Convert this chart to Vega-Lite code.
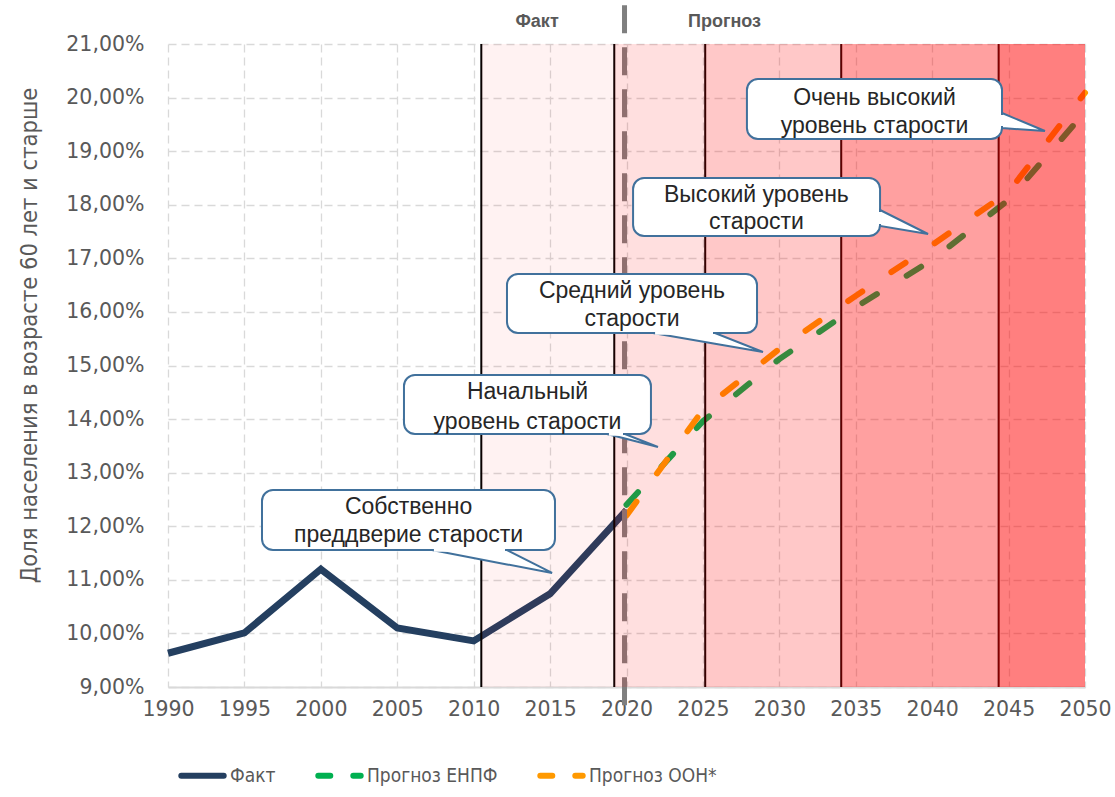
{
  "$schema": "https://vega.github.io/schema/vega-lite/v6.json",
  "width": 917,
  "height": 643,
  "autosize": "none",
  "padding": {"left": 168, "top": 44, "right": 30, "bottom": 110},
  "config": {
    "view": {"stroke": null},
    "axis": {"labelColor": "#595959", "labelFont": "DejaVu Sans", "labelFontSize": 20.5, "gridColor": "#d9d9d9", "gridDash": [8, 5], "gridWidth": 1.3, "ticks": false}
  },
  "datasets": {
    "fact": [
      {"year": 1990, "value": 9.63, "series": "Факт"},
      {"year": 1995, "value": 10.01, "series": "Факт"},
      {"year": 2000, "value": 11.2, "series": "Факт"},
      {"year": 2005, "value": 10.1, "series": "Факт"},
      {"year": 2010, "value": 9.86, "series": "Факт"},
      {"year": 2015, "value": 10.74, "series": "Факт"},
      {"year": 2020, "value": 12.3, "series": "Факт"}
    ],
    "forecast": [
      {"year": 2020, "value": 12.4, "series": "Прогноз ЕНПФ"},
      {"year": 2025, "value": 13.96, "series": "Прогноз ЕНПФ"},
      {"year": 2030, "value": 15.12, "series": "Прогноз ЕНПФ"},
      {"year": 2035, "value": 16.09, "series": "Прогноз ЕНПФ"},
      {"year": 2040, "value": 16.97, "series": "Прогноз ЕНПФ"},
      {"year": 2045, "value": 18.09, "series": "Прогноз ЕНПФ"},
      {"year": 2050, "value": 19.73, "series": "Прогноз ЕНПФ"},
      {"year": 2020, "value": 12.2, "series": "Прогноз ООН*"},
      {"year": 2025, "value": 14.17, "series": "Прогноз ООН*"},
      {"year": 2030, "value": 15.31, "series": "Прогноз ООН*"},
      {"year": 2035, "value": 16.3, "series": "Прогноз ООН*"},
      {"year": 2040, "value": 17.25, "series": "Прогноз ООН*"},
      {"year": 2045, "value": 18.24, "series": "Прогноз ООН*"},
      {"year": 2050, "value": 20.09, "series": "Прогноз ООН*"}
    ],
    "bounds": [
      {"year": 2010.5}, {"year": 2019.2}, {"year": 2025.15}, {"year": 2034.05}, {"year": 2044.35}
    ],
    "divider": [{"year": 2019.87, "lo": 8.66, "hi": 21.8}],
    "zones": [
      {"x1": 2010.5, "x2": 2019.2, "level": "1"},
      {"x1": 2019.2, "x2": 2025.1, "level": "2"},
      {"x1": 2025.1, "x2": 2034.0, "level": "3"},
      {"x1": 2034.0, "x2": 2044.3, "level": "4"},
      {"x1": 2044.3, "x2": 2050, "level": "5"}
    ],
    "boxes": [
      {"x1": 1996.15, "x2": 2015.32, "y1": 11.557, "y2": 12.676},
      {"x1": 2005.44, "x2": 2021.6, "y1": 13.722, "y2": 14.823},
      {"x1": 2012.18, "x2": 2028.54, "y1": 15.606, "y2": 16.708},
      {"x1": 2020.43, "x2": 2036.59, "y1": 17.417, "y2": 18.499},
      {"x1": 2027.88, "x2": 2044.57, "y1": 19.227, "y2": 20.347}
    ],
    "tails": [
      {"id": 1, "x": 2007.27, "lo": 11.557, "hi": 11.557},
      {"id": 1, "x": 2012.18, "lo": 11.288, "hi": 11.557},
      {"id": 1, "x": 2015.13, "lo": 11.128, "hi": 11.128},
      {"id": 2, "x": 2018.72, "lo": 13.722, "hi": 13.722},
      {"id": 2, "x": 2019.9, "lo": 13.636, "hi": 13.722},
      {"id": 2, "x": 2022.06, "lo": 13.479, "hi": 13.479},
      {"id": 3, "x": 2021.73, "lo": 15.606, "hi": 15.606},
      {"id": 3, "x": 2025.79, "lo": 15.407, "hi": 15.606},
      {"id": 3, "x": 2028.93, "lo": 15.252, "hi": 15.252},
      {"id": 4, "x": 2036.59, "lo": 17.603, "hi": 17.902},
      {"id": 4, "x": 2039.73, "lo": 17.454, "hi": 17.454},
      {"id": 5, "x": 2044.57, "lo": 19.432, "hi": 19.712},
      {"id": 5, "x": 2047.38, "lo": 19.376, "hi": 19.376}
    ],
    "covers": [
      {"x1": 2007.4, "x2": 2012.05, "y1": 11.557, "y2": 11.557},
      {"x1": 2018.85, "x2": 2019.77, "y1": 13.722, "y2": 13.722},
      {"x1": 2021.87, "x2": 2025.66, "y1": 15.606, "y2": 15.606},
      {"x1": 2036.59, "x2": 2036.59, "y1": 17.865, "y2": 17.641},
      {"x1": 2044.57, "x2": 2044.57, "y1": 19.675, "y2": 19.47}
    ],
    "notes": [
      {"x": 2005.74, "y": 12.36, "text": "Собственно"},
      {"x": 2005.74, "y": 11.84, "text": "преддверие старости"},
      {"x": 2013.52, "y": 14.505, "text": "Начальный"},
      {"x": 2013.52, "y": 13.946, "text": "уровень старости"},
      {"x": 2020.36, "y": 16.391, "text": "Средний уровень"},
      {"x": 2020.36, "y": 15.867, "text": "старости"},
      {"x": 2028.5, "y": 18.182, "text": "Высокий уровень"},
      {"x": 2028.5, "y": 17.678, "text": "старости"},
      {"x": 2036.23, "y": 19.992, "text": "Очень высокий"},
      {"x": 2036.23, "y": 19.47, "text": "уровень старости"}
    ],
    "heads": [
      {"x": 2014.15, "y": 21.41, "text": "Факт"},
      {"x": 2026.41, "y": 21.41, "text": "Прогноз"}
    ]
  },
  "layer": [
    {
      "data": {"name": "fact"},
      "mark": {"type": "line", "strokeWidth": 7},
      "encoding": {
        "x": {"field": "year", "type": "quantitative", "scale": {"domain": [1990, 2050], "nice": false, "zero": false},
          "axis": {"values": [1990, 1995, 2000, 2005, 2010, 2015, 2020, 2025, 2030, 2035, 2040, 2045, 2050], "format": "d", "title": null, "domainColor": "#d9d9d9", "domainWidth": 2, "labelPadding": 12, "labelFlush": false}},
        "y": {"field": "value", "type": "quantitative", "scale": {"domain": [9, 21], "nice": false, "zero": false},
          "axis": {"values": [9, 10, 11, 12, 13, 14, 15, 16, 17, 18, 19, 20, 21], "labelExpr": "replace(format(datum.value, '.2f'), '.', ',') + '%'", "domain": false, "labelPadding": 24,
            "title": "Доля населения в возрасте 60 лет и старше", "titleFont": "DejaVu Sans Condensed, Liberation Sans, sans-serif", "titleFontSize": 23.5, "titleFontWeight": "normal", "titleColor": "#595959", "titlePadding": 24, "titleY": 291}},
        "color": {"field": "series", "type": "nominal",
          "scale": {"domain": ["Факт", "Прогноз ЕНПФ", "Прогноз ООН*"], "range": ["#243f60", "#00b050", "#ff9900"]},
          "legend": {"orient": "none", "legendX": 10, "legendY": 707, "direction": "horizontal", "title": null, "symbolType": "stroke", "symbolSize": 1800, "symbolStrokeWidth": 6,
            "labelFont": "DejaVu Sans Condensed, Liberation Sans, sans-serif", "labelFontSize": 19, "labelColor": "#595959", "columnPadding": 30, "labelOffset": 3,
            "encode": {"symbols": {"update": {"strokeDash": {"signal": "datum.value == 'Факт' ? [1, 0] : [12, 23]"}, "strokeCap": {"value": "round"}}}}}}
      }
    },
    {
      "data": {"name": "forecast"},
      "mark": {"type": "line", "strokeWidth": 6, "strokeDash": [17, 35], "strokeCap": "round"},
      "encoding": {
        "x": {"field": "year", "type": "quantitative"},
        "y": {"field": "value", "type": "quantitative"},
        "color": {"field": "series", "type": "nominal"}
      }
    },
    {
      "data": {"name": "bounds"},
      "mark": {"type": "rule", "color": "#000000", "strokeWidth": 2},
      "encoding": {
        "x": {"field": "year", "type": "quantitative"}
      }
    },
    {
      "data": {"name": "divider"},
      "mark": {"type": "rule", "color": "#7f7f7f", "strokeWidth": 5, "strokeDash": [28, 14]},
      "encoding": {
        "x": {"field": "year", "type": "quantitative"},
        "y": {"field": "lo", "type": "quantitative"},
        "y2": {"field": "hi"}
      }
    },
    {
      "data": {"name": "zones"},
      "mark": {"type": "rect"},
      "encoding": {
        "x": {"field": "x1", "type": "quantitative"},
        "x2": {"field": "x2"},
        "y": {"datum": 9},
        "y2": {"datum": 21},
        "fill": {"field": "level", "type": "ordinal", "scale": {"domain": ["1", "2", "3", "4", "5"], "range": ["rgba(255,0,0,0.05)", "rgba(255,0,0,0.125)", "rgba(255,0,0,0.216)", "rgba(255,0,0,0.373)", "rgba(255,0,0,0.5)"]}, "legend": null}
      }
    },
    {
      "data": {"name": "boxes"},
      "mark": {"type": "rect", "fill": "#ffffff", "stroke": "#41719c", "strokeWidth": 2, "cornerRadius": 11},
      "encoding": {
        "x": {"field": "x1", "type": "quantitative"},
        "x2": {"field": "x2"},
        "y": {"field": "y1", "type": "quantitative"},
        "y2": {"field": "y2"}
      }
    },
    {
      "data": {"name": "tails"},
      "mark": {"type": "area", "fill": "#ffffff", "stroke": "#41719c", "strokeWidth": 2, "opacity": 1, "fillOpacity": 1},
      "encoding": {
        "x": {"field": "x", "type": "quantitative"},
        "y": {"field": "hi", "type": "quantitative"},
        "y2": {"field": "lo"},
        "detail": {"field": "id", "type": "nominal"}
      }
    },
    {
      "data": {"name": "covers"},
      "mark": {"type": "rule", "color": "#ffffff", "strokeWidth": 3.5},
      "encoding": {
        "x": {"field": "x1", "type": "quantitative"},
        "x2": {"field": "x2"},
        "y": {"field": "y1", "type": "quantitative"},
        "y2": {"field": "y2"}
      }
    },
    {
      "data": {"name": "notes"},
      "mark": {"type": "text", "font": "Liberation Sans", "fontSize": 23, "fill": "#262626", "align": "center", "baseline": "middle"},
      "encoding": {
        "x": {"field": "x", "type": "quantitative"},
        "y": {"field": "y", "type": "quantitative"},
        "text": {"field": "text"}
      }
    },
    {
      "data": {"name": "heads"},
      "mark": {"type": "text", "font": "Liberation Sans", "fontSize": 18, "fontWeight": "bold", "fill": "#595959", "align": "center", "baseline": "middle"},
      "encoding": {
        "x": {"field": "x", "type": "quantitative"},
        "y": {"field": "y", "type": "quantitative"},
        "text": {"field": "text"}
      }
    }
  ]
}
